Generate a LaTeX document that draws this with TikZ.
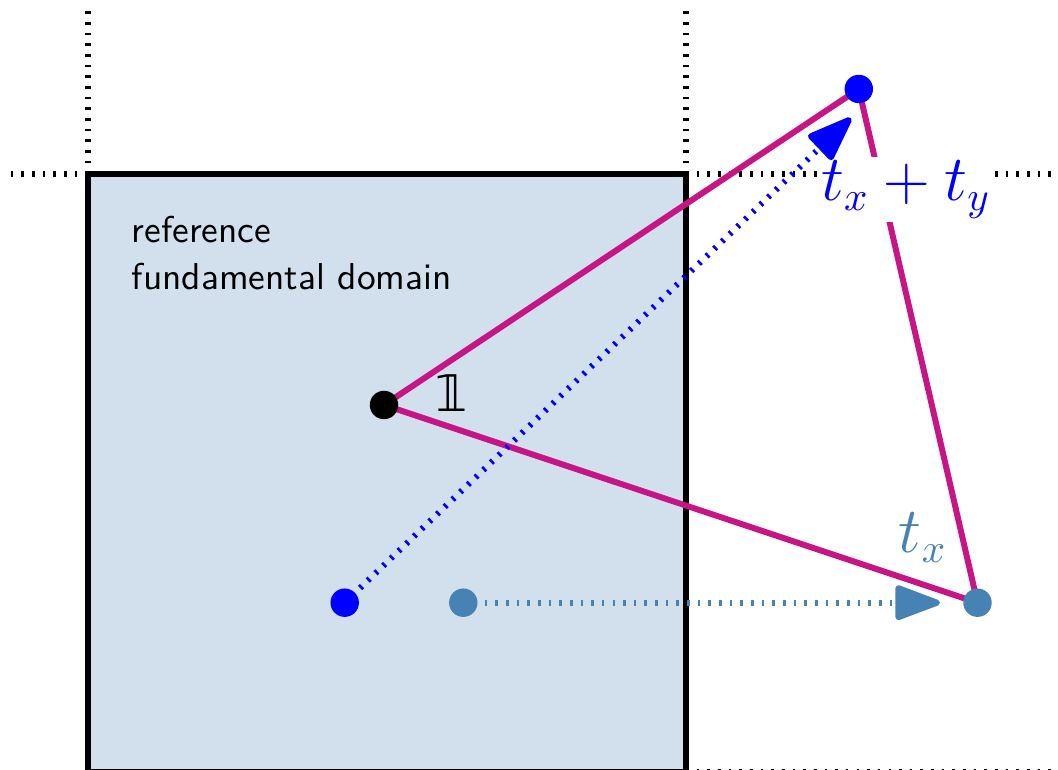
\documentclass[tikz,border=0pt]{standalone}
\usepackage{fontspec}
\newfontfamily\dvsans{DejaVu Sans}
\usetikzlibrary{arrows.meta}
\definecolor{steelblue}{RGB}{70,130,180}
\definecolor{mvred}{RGB}{199,21,133}
\tikzset{
  gridline/.style={line width=1.6pt, dash pattern=on 0.7pt off 2.15pt},
  tri/.style={line width=1.6pt, mvred, line join=round},
  dotarrow/.style={line width=1.6pt, dash pattern=on 0.7pt off 2.15pt,
    -{Triangle[length=13.5pt,width=9.6pt,round]}},
  pt/.style={circle, inner sep=0pt, minimum size=7.6pt},
  mathlab/.style={font=\fontsize{16}{19}\selectfont, inner sep=1pt},
}
\begin{document}
\begin{tikzpicture}[x=0.2674pt, y=-0.2674pt]
\useasboundingbox (0,0) rectangle (1058,770);
\clip (0,0) rectangle (1058,770);
% reference fundamental domain
\draw[line width=1.6pt, fill=steelblue!25] (88,174) rectangle (686,772);
% grid
\coordinate (c1) at (88,174);
\coordinate (c2) at (686,174);
\coordinate (c3) at (686,772);
\coordinate (e1) at (88,10);
\coordinate (e2) at (10,174);
\coordinate (e3) at (686,10);
\coordinate (e4) at (1054,174);
\coordinate (e5) at (1054,772);
\draw[gridline] (c1) -- (e1);
\draw[gridline] (c1) -- (e2);
\draw[gridline] (c2) -- (e3);
\draw[gridline] (c2) -- (e4);
\draw[gridline] (c3) -- (e5);
% points
\coordinate (pI) at (384,405);
\coordinate (pT) at (858.8,89);
\coordinate (pX) at (977.5,602.7);
\coordinate (pB) at (344.7,602.7);
\coordinate (pS) at (463.3,602.7);
\coordinate (tipB) at (851,118);
\coordinate (tipS) at (940,602.7);
% triangle
\draw[tri] (pI) -- (pT) -- (pX) -- cycle;
% label t_x + t_y
\node[mathlab, blue, fill=white, anchor=base] (ltxy) at (906,201) {$t_x+t_y$};
% translations
\draw[dotarrow, blue] (pB) -- (tipB);
\draw[dotarrow, steelblue] (pS) -- (tipS);
% dots
\node[pt, fill=black] (nI) at (pI) {};
\node[pt, fill=blue] (nT) at (pT) {};
\node[pt, fill=steelblue] (nX) at (pX) {};
\node[pt, fill=blue] (nB) at (pB) {};
\node[pt, fill=steelblue] (nS) at (pS) {};
% labels
\node[anchor=base west, inner sep=0pt, font=\dvsans\fontsize{13.5}{15}\selectfont] (lone) at (435,412) {𝟙};
\node[mathlab, steelblue, anchor=base] (ltx) at (923,553) {$t_x$};
\node[anchor=base west, inner sep=0pt, align=left,
  font=\sffamily\fontsize{10}{12.57}\selectfont] (lref) at (131,290)
  {reference\\fundamental domain};
\end{tikzpicture}
\end{document}
